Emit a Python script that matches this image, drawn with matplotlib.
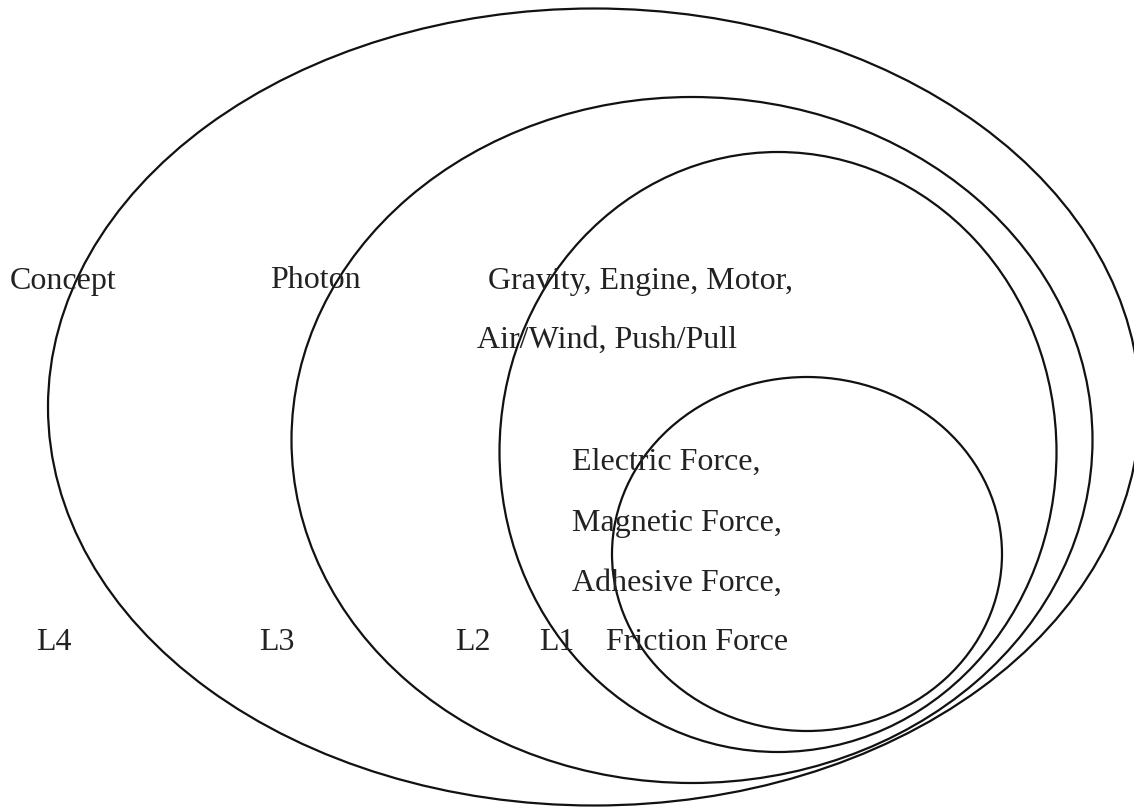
import matplotlib.pyplot as plt
from matplotlib.patches import Ellipse

# nested levels, outer to inner: center x, center y, width, height (pixel units)
ell_cx = [594, 692, 778, 807]
ell_cy = [407, 440, 452, 554]
ell_w = [1092, 801, 557, 390]
ell_h = [797, 686, 600, 354]

labels = ["Concept", "Photon", "Gravity, Engine, Motor,", "Air/Wind, Push/Pull",
          "Electric Force,", "Magnetic Force,", "Adhesive Force,", "Friction Force",
          "L4", "L3", "L2", "L1"]
label_x = [10, 270, 488, 477, 572, 572, 572, 606, 36, 259, 455, 539]
label_y = [281, 281, 281, 340, 462, 523, 583, 643, 643, 643, 643, 643]

fig = plt.figure(figsize=(11.34, 8.11), dpi=100)
ax = fig.add_axes([0, 0, 1, 1])
ax.set_xlim(0, 1134)
ax.set_ylim(811, 0)
ax.axis("off")

for cx, cy, w, h in zip(ell_cx, ell_cy, ell_w, ell_h):
    ax.add_patch(Ellipse((cx, cy), w, h, fill=False, edgecolor="#111111", linewidth=1.6))

for t, x, y in zip(labels, label_x, label_y):
    ax.text(x, y, t, fontsize=23, family="Liberation Serif", color="#222222",
            ha="left", va="center")

fig.savefig("out.png", dpi=100)
